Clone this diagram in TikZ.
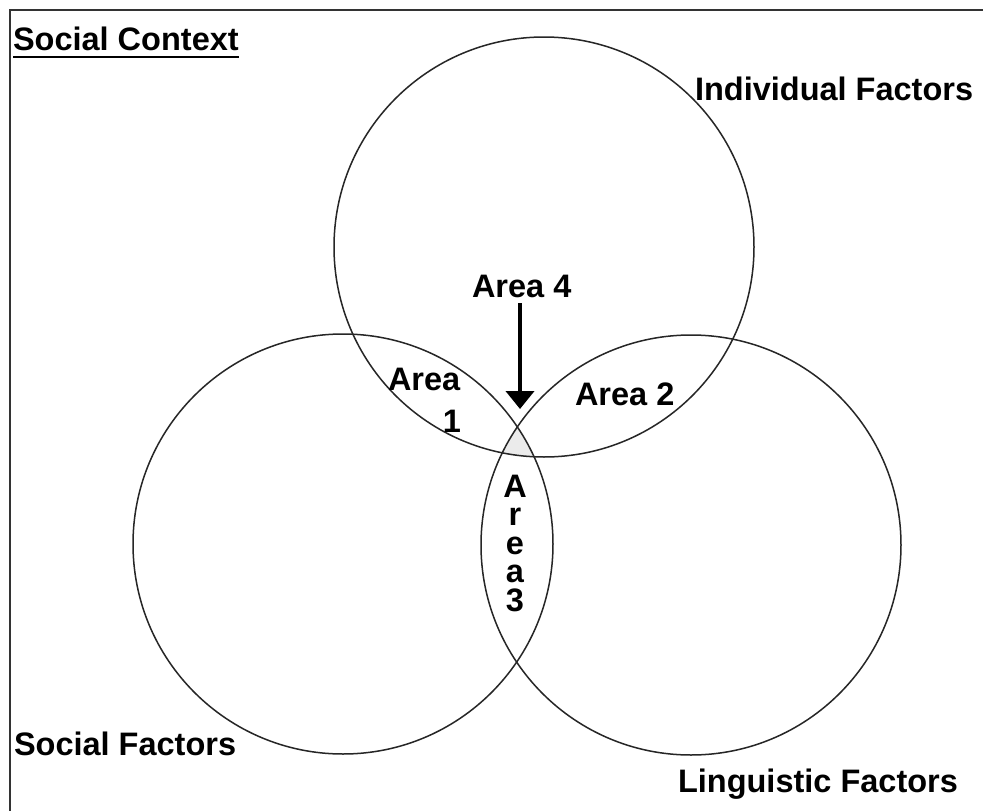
\documentclass[tikz,border=0pt]{standalone}
\usepackage{fontspec}
\setmainfont{Liberation Sans}
\usetikzlibrary{arrows.meta}
\begin{document}
\begin{tikzpicture}[x=1pt,y=-1pt,
  lbl/.style={inner sep=0pt, outer sep=0pt, font=\fontsize{32.5}{34}\selectfont\bfseries},
  vlbl/.style={inner sep=0pt, outer sep=0pt, align=center, font=\fontsize{32.5}{28.5}\selectfont\bfseries},
  venn/.style={line width=1.5pt, draw=black!85},
  frame/.style={line width=2.5pt, draw=black!80},
  pointer/.style={line width=4pt, -{Triangle[width=28pt,length=18pt]}}]
\useasboundingbox (0,0) rectangle (983,811);
\clip (0,0) rectangle (983,811);
\fill[white] (0,0) rectangle (983,811);
% frame (right and bottom edges lie outside the picture)
\draw[frame] (10,10) rectangle (1010,840);
% light grey centre region
\begin{scope}
  \clip (544,247) circle[radius=210];
  \clip (343,544) circle[radius=210];
  \fill[black!8] (691,545) circle[radius=210];
\end{scope}
% circles
\node[venn, circle, minimum size=420pt, inner sep=0pt] (indiv) at (544,247) {};
\node[venn, circle, minimum size=420pt, inner sep=0pt] (social) at (343,544) {};
\node[venn, circle, minimum size=420pt, inner sep=0pt] (ling) at (691,545) {};
% titles
\node[lbl, anchor=base west] (sc) at (13,50) {Social Context};
\draw[line width=2pt] ([yshift=-7pt]sc.base west) -- ([yshift=-7pt]sc.base east);
\node[lbl, anchor=base west] (if) at (695,100) {Individual Factors};
\node[lbl, anchor=base west] (sf) at (14,755) {Social Factors};
\node[lbl, anchor=base west] (lf) at (678,792) {Linguistic Factors};
% areas
\node[lbl, anchor=base west] (a4) at (472,297) {Area 4};
\node[lbl, anchor=base west] (a1a) at (388,390) {Area};
\node[lbl, anchor=base] (a1b) at (452,432) {1};
\node[lbl, anchor=base west] (a2) at (575,405) {Area 2};
\node[vlbl, anchor=north] (a3) at (515,475) {A\\r\\e\\a\\3};
% arrow
\coordinate (arrs) at (520,303);
\coordinate (arre) at (520,409);
\draw[pointer] (arrs) -- (arre);
\end{tikzpicture}
\end{document}
